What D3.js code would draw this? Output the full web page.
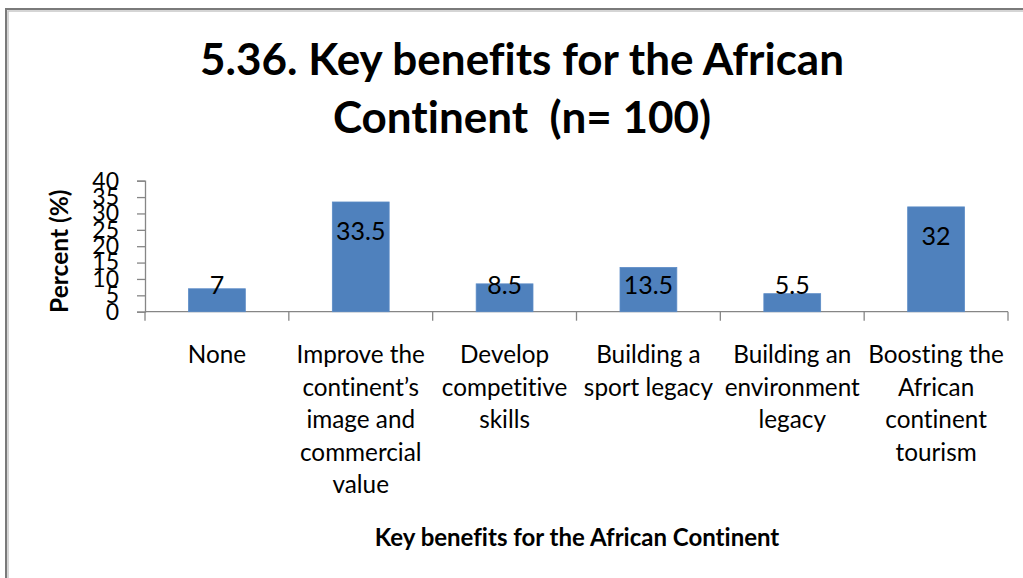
<!DOCTYPE html>
<html>
<head>
<meta charset="utf-8">
<script src="https://cdn.jsdelivr.net/npm/d3@7"></script>
<style>
  html, body { margin: 0; padding: 0; background: #fff; }
  svg { display: block; }
  text { font-family: Lato, "Open Sans", sans-serif; fill: #000; white-space: pre; font-variant-ligatures: none; }
</style>
</head>
<body>
<svg id="chart" width="1023" height="578"></svg>
<script>
// Survey results: key benefits for the African continent (n = 100)
const categories = [
  "None",
  "Improve the continent’s image and commercial value",
  "Develop competitive skills",
  "Building a sport legacy",
  "Building an environment legacy",
  "Boosting the African continent tourism"
];
const categoryLines = [
  ["None"],
  ["Improve the", "continent’s", "image and", "commercial", "value"],
  ["Develop", "competitive", "skills"],
  ["Building a", "sport legacy"],
  ["Building an", "environment", "legacy"],
  ["Boosting the", "African", "continent", "tourism"]
];
const percentValues = [7, 33.5, 8.5, 13.5, 5.5, 32];
const yTickValues = [0, 5, 10, 15, 20, 25, 30, 35, 40];
const titleLines = ["5.36. Key benefits for the African", "Continent  (n= 100)"];
const xAxisTitle = "Key benefits for the African Continent";
const yAxisTitle = "Percent (%)";

const svg = d3.select("#chart");
const W = 1023, H = 578;

// plot area
const plot = { left: 145, right: 1008, top: 180.7, bottom: 311.7 };

const x = d3.scaleBand()
  .domain(categories)
  .range([plot.left, plot.right])
  .padding(0);

const y = d3.scaleLinear()
  .domain([0, 40])
  .range([plot.bottom, plot.top]);

// outer frame of the chart object
const frame = svg.append("g");
frame.append("path")
  .attr("d", `M6,${H} V9 H${W}`)
  .attr("fill", "none")
  .attr("stroke", "#7a7a7a")
  .attr("stroke-width", 2);
frame.append("path")
  .attr("d", `M8,${H} V11 H${W}`)
  .attr("fill", "none")
  .attr("stroke", "#c8c8c8")
  .attr("stroke-width", 1.5);

// title
svg.append("text")
  .attr("text-anchor", "middle")
  .attr("font-weight", "bold")
  .attr("font-size", 44)
  .selectAll("tspan")
  .data(titleLines)
  .join("tspan")
  .attr("x", 522)
  .attr("y", (d, i) => 75 + i * 58)
  .text(d => d);

// y axis
const yAxis = d3.axisLeft(y)
  .tickValues(yTickValues)
  .tickSize(8)
  .tickPadding(18);
const gy = svg.append("g")
  .attr("transform", `translate(${plot.left},0)`)
  .call(yAxis);
gy.select(".domain").attr("stroke", "#868686").attr("stroke-width", 1.3);
gy.selectAll(".tick line").attr("stroke", "#868686").attr("stroke-width", 1.3);
gy.selectAll(".tick text")
  .attr("font-size", 23)
  .attr("font-family", "Lato, sans-serif")
  .attr("fill", "#000");

// x axis: ticks at category boundaries
const gx = svg.append("g")
  .attr("transform", `translate(0,${plot.bottom})`);
gx.append("line")
  .attr("x1", plot.left).attr("x2", plot.right)
  .attr("stroke", "#868686").attr("stroke-width", 1.3);
const boundaries = categories.map(c => x(c)).concat([x(categories[categories.length - 1]) + x.bandwidth()]);
gx.selectAll("line.tick")
  .data(boundaries)
  .join("line")
  .attr("class", "tick")
  .attr("x1", d => d).attr("x2", d => d)
  .attr("y1", 0).attr("y2", 9)
  .attr("stroke", "#868686").attr("stroke-width", 1.3);

// category labels, wrapped
const catG = svg.append("g");
categories.forEach((c, i) => {
  catG.append("text")
    .attr("text-anchor", "middle")
    .attr("font-size", 24.3)
    .selectAll("tspan")
    .data(categoryLines[i])
    .join("tspan")
    .attr("x", x(c) + x.bandwidth() / 2)
    .attr("y", (d, j) => 363 + j * 32.5)
    .text(d => d);
});

// bars
const barW = x.bandwidth() * 0.395;
const data = categories.map((c, i) => ({ c, v: percentValues[i] }));
svg.append("g")
  .selectAll("rect")
  .data(data)
  .join("rect")
  .attr("x", d => x(d.c) + (x.bandwidth() - barW) / 2)
  .attr("y", d => y(d.v))
  .attr("width", barW)
  .attr("height", d => y(0) - y(d.v))
  .attr("fill", "#4F81BD")
  .attr("stroke", "#5b8bc6")
  .attr("stroke-width", 0.8);

// value labels: inside end, kept above a minimum line near the axis
svg.append("g")
  .selectAll("text")
  .data(data)
  .join("text")
  .attr("text-anchor", "middle")
  .attr("font-size", 25)
  .attr("fill", "#111")
  .attr("x", d => x(d.c) + x.bandwidth() / 2)
  .attr("y", d => Math.min(y(d.v) + 38.5, y(0) - 18))
  .text(d => d.v);

// axis titles
svg.append("text")
  .attr("text-anchor", "middle")
  .attr("font-weight", "bold")
  .attr("font-size", 24)
  .attr("x", 577)
  .attr("y", 546)
  .text(xAxisTitle);

svg.append("text")
  .attr("text-anchor", "middle")
  .attr("font-weight", "bold")
  .attr("font-size", 24.5)
  .attr("transform", `translate(68,${(plot.top + plot.bottom) / 2 + 5}) rotate(-90)`)
  .text(yAxisTitle);
</script>
</body>
</html>
